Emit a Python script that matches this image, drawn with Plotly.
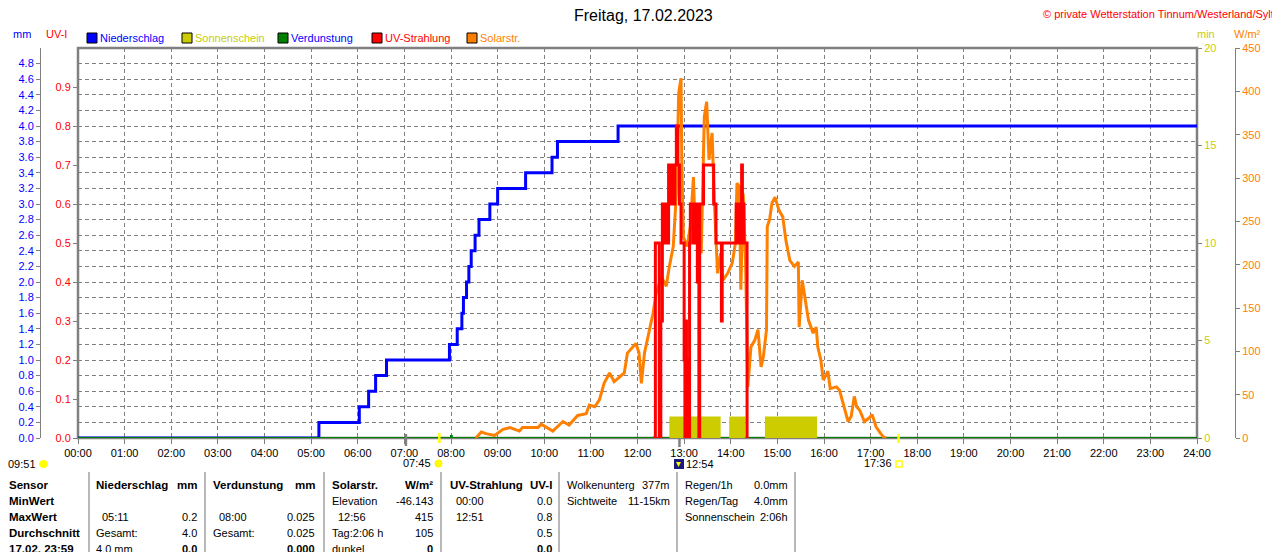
import plotly.graph_objects as go

# ---- data (times as HH:MM) ----
rain_time = ["00:00", "05:10", "06:02", "06:14", "06:23", "06:37", "07:58", "08:08", "08:14",
             "08:16", "08:20", "08:23", "08:26", "08:31", "08:36", "08:50", "09:00", "09:36",
             "10:10", "10:17", "11:35", "24:00"]
rain_mm = [0.0, 0.2, 0.4, 0.6, 0.8, 1.0, 1.2, 1.4, 1.6, 1.8, 2.0, 2.2, 2.4, 2.6, 2.8, 3.0,
           3.2, 3.4, 3.6, 3.8, 4.0, 4.0]

solar_time = ["08:32", "08:39", "08:45", "08:56", "09:07", "09:16", "09:28", "09:32", "09:52",
              "09:56", "10:11", "10:24", "10:32", "10:43", "10:54", "10:58", "11:05", "11:11",
              "11:17", "11:24", "11:30", "11:40", "11:43", "11:47", "11:58", "12:02", "12:05",
              "12:09", "12:16", "12:20", "12:24", "12:31", "12:37", "12:41", "12:46", "12:50",
              "12:53", "12:56", "12:57", "12:59", "13:04", "13:08", "13:12", "13:14", "13:17",
              "13:22", "13:26", "13:29", "13:32", "13:36", "13:39", "13:43", "13:47", "13:50",
              "13:56", "14:02", "14:06", "14:08", "14:11", "14:13", "14:16", "14:19", "14:22",
              "14:26", "14:31", "14:35", "14:39", "14:42", "14:46", "14:47", "14:50", "14:53",
              "14:57", "15:02", "15:07", "15:11", "15:16", "15:22", "15:27", "15:28", "15:32",
              "15:36", "15:40", "15:46", "15:50", "15:52", "15:56", "15:59", "16:05", "16:08",
              "16:16", "16:20", "16:26", "16:31", "16:35", "16:39", "16:42", "16:46", "16:52",
              "16:58", "17:02", "17:07", "17:13", "17:17", "17:20"]
solar_w = [0, 7, 5, 3, 10, 12, 8, 12, 12,
           16, 8, 19, 15, 26, 28, 38, 36, 44,
           63, 75, 65, 72, 75, 98, 109, 98, 63,
           98, 128, 144, 167, 186, 175, 198, 221, 282,
           398, 415, 321, 232, 221, 244, 301, 244, 267,
           213, 371, 388, 321, 352, 271, 190, 213, 182,
           190, 202, 225, 294, 290, 171, 282, 205, 59,
           105, 113, 125, 82, 94, 125, 244, 252, 271,
           278, 263, 255, 228, 205, 198, 203, 128, 182,
           159, 136, 121, 128, 105, 90, 67, 77, 57,
           59, 55, 36, 19, 25, 48, 36, 32, 19,
           23, 27, 13, 5, 1, 0]

uv_time = ["12:20", "12:23", "12:28", "12:30", "12:32", "12:34", "12:36", "12:38", "12:40",
           "12:42", "12:44", "12:46", "12:48", "12:50", "12:52", "12:54", "12:56", "12:59",
           "13:00", "13:01", "13:02", "13:03", "13:05", "13:06", "13:07", "13:08", "13:12",
           "13:14", "13:17", "13:19", "13:20", "13:25", "13:37", "13:38", "13:41", "13:48",
           "13:49", "14:06", "14:07", "14:09", "14:10", "14:12", "14:14", "14:15", "14:17",
           "14:21", "14:22"]
uv_idx = [0.0, 0.5, 0.0, 0.3, 0.6, 0.5, 0.6, 0.5, 0.7,
          0.6, 0.7, 0.6, 0.7, 0.8, 0.7, 0.6, 0.5, 0.5,
          0.2, 0.0, 0.3, 0.0, 0.2, 0.0, 0.5, 0.6, 0.5,
          0.6, 0.4, 0.0, 0.6, 0.7, 0.7, 0.6, 0.5, 0.3,
          0.5, 0.5, 0.6, 0.5, 0.6, 0.5, 0.7, 0.6, 0.5,
          0.0, 0.0]

evap_time = ["00:00", "08:00", "08:01", "24:00"]
evap_mm = [0.0, 0.025, 0.0, 0.0]

sun_start = ["12:41", "13:58", "14:44"]
sun_end = ["13:47", "14:19", "15:51"]
sun_min = [1.1, 1.1, 1.1]

hour_labels = ["%02d:00" % i for i in range(25)]
mm_ticks = [0.0, 0.2, 0.4, 0.6, 0.8, 1.0, 1.2, 1.4, 1.6, 1.8, 2.0, 2.2, 2.4, 2.6, 2.8, 3.0,
            3.2, 3.4, 3.6, 3.8, 4.0, 4.2, 4.4, 4.6, 4.8]
uv_ticks = [0.0, 0.1, 0.2, 0.3, 0.4, 0.5, 0.6, 0.7, 0.8, 0.9]
min_ticks = [0, 5, 10, 15, 20]
w_ticks = [0, 50, 100, 150, 200, 250, 300, 350, 400, 450]

sunrise, sunset, noon, dawn = "07:45", "17:36", "12:54", "07:02"

# ---- helpers ----
# the page body has an 8px margin, so the figure is 8px smaller and coordinates
# below are given in window pixels
OFF = 8
W, H = 1280 - OFF, 552 - OFF
FONT = "Liberation Sans"
GRAY = "#808080"


def hrs(t):
    hh, mm = t.split(":")
    return int(hh) + int(mm) / 60.0


def px(x):
    return (x - OFF) / W


def py(y):
    return 1 - (y - OFF) / H


X0, X1, Y0, Y1 = 78, 1197, 48, 438

fig = go.Figure()

fig.add_trace(go.Scatter(x=[hrs(t) for t in rain_time], y=rain_mm, mode="lines",
                         line=dict(color="#0000ff", width=3, shape="hv"), yaxis="y",
                         name="Niederschlag"))
fig.add_trace(go.Scatter(x=[hrs(t) for t in evap_time], y=evap_mm, mode="lines",
                         line=dict(color="#008000", width=2, shape="hv"), yaxis="y",
                         name="Verdunstung"))
s0 = [hrs(t) for t in sun_start]
s1 = [hrs(t) for t in sun_end]
fig.add_trace(go.Bar(x=[(a + b) / 2 for a, b in zip(s0, s1)], y=sun_min,
                     width=[b - a for a, b in zip(s0, s1)], marker_color="#cccc00",
                     marker_line_width=0, yaxis="y2", name="Sonnenschein"))
fig.add_trace(go.Scatter(x=[hrs(t) for t in solar_time], y=solar_w, mode="lines",
                         line=dict(color="#ff8000", width=3), yaxis="y3", name="Solarstr."))
fig.add_trace(go.Scatter(x=[hrs(t) for t in uv_time], y=uv_idx, mode="lines",
                         line=dict(color="#ff0000", width=3, shape="hv"), yaxis="y4",
                         name="UV-Strahlung"))

dom_x = [px(X0), px(X1)]
dom_y = [py(Y1), py(Y0)]
TF = 11


def yax(**kw):
    base = dict(domain=dom_y, automargin=False, showgrid=False, zeroline=False,
                tickcolor=GRAY, ticklen=4, ticks="outside")
    base.update(kw)
    return base


fig.update_layout(
    width=W, height=H, margin=dict(l=0, r=0, t=0, b=0, autoexpand=False),
    paper_bgcolor="white", plot_bgcolor="white", showlegend=False,
    font=dict(family=FONT, size=11, color="black"),
    xaxis=dict(domain=dom_x, range=[0, 24], tickvals=list(range(25)), ticktext=hour_labels,
               showgrid=True, gridcolor=GRAY, griddash="4px,3px", gridwidth=1,
               ticks="outside", ticklen=5, tickcolor=GRAY, zeroline=False, automargin=False,
               tickfont=dict(family=FONT, size=TF, color="black"), anchor="y"),
    # mm axis carries the dashed horizontal grid
    yaxis=yax(anchor="free", position=px(40), side="left", range=[0, 5],
              tickvals=mm_ticks, ticktext=["%.1f" % v for v in mm_ticks],
              tickfont=dict(family=FONT, size=TF, color="#0000ff"),
              showline=True, linecolor=GRAY, linewidth=1,
              showgrid=True, gridcolor=GRAY, griddash="4px,3px"),
    yaxis2=yax(overlaying="y", anchor="x", side="right", range=[0, 20], tickvals=min_ticks,
               tickfont=dict(family=FONT, size=TF, color="#cccc00")),
    yaxis3=yax(overlaying="y", anchor="free", position=px(1235), side="right", range=[0, 450],
               tickvals=w_ticks, tickfont=dict(family=FONT, size=TF, color="#ff8000"),
               showline=True, linecolor=GRAY, linewidth=1),
    yaxis4=yax(overlaying="y", anchor="x", side="left", range=[0, 1], tickvals=uv_ticks,
               ticktext=["%.1f" % v for v in uv_ticks],
               tickfont=dict(family=FONT, size=TF, color="#ff0000")),
)

shapes = []
# frame
shapes.append(dict(type="rect", xref="paper", yref="paper", x0=px(X0), x1=px(X1),
                   y0=py(Y1), y1=py(Y0), line=dict(color=GRAY, width=2.5), layer="below"))
# sun markers on the time axis
for t, col, ya, yb in [(sunrise, "#ffff00", 433, 443), (sunset, "#ffff00", 434, 443),
                       (noon, GRAY, 438, 447), (dawn, GRAY, 434, 446)]:
    shapes.append(dict(type="line", xref="x", yref="paper", x0=hrs(t), x1=hrs(t),
                       y0=py(yb), y1=py(ya), line=dict(color=col, width=2.5), layer="above"))

annotations = []


def text(x, y, s, color="black", anchor="left", size=11, bold=False):
    if bold:
        s = "<b>" + s + "</b>"
    annotations.append(dict(x=px(x), y=py(y), xref="paper", yref="paper", text=s,
                            showarrow=False, xanchor=anchor, yanchor="middle",
                            borderpad=0, font=dict(family=FONT, size=size, color=color)))


# title row
text(643, 16, "Freitag, 17.02.2023", anchor="center", size=16)
text(1275, 14, "© private Wetterstation Tinnum/Westerland/Sylt", color="#ff0000",
     anchor="right", size=11)
text(12, 34, "mm", color="#0000ff")
text(45, 34, "UV-I", color="#ff0000")
text(1196, 34, "min", color="#cccc00")
text(1233, 34, "W/m²", color="#ff8000")

legend = [("Niederschlag", "#0000ff", "#0000ff", 87),
          ("Sonnenschein", "#cccc00", "#cccc00", 182),
          ("Verdunstung", "#008000", "#0000ff", 278),
          ("UV-Strahlung", "#ff0000", "#ff0000", 372),
          ("Solarstr.", "#ff8000", "#ff8000", 467)]
for name, box, tcol, x in legend:
    shapes.append(dict(type="rect", xref="paper", yref="paper", x0=px(x), x1=px(x + 10),
                       y0=py(43), y1=py(33), fillcolor=box, line=dict(color="black", width=1)))
    text(x + 12, 38, name, color=tcol)

# sun / moon times under the axis
text(37, 464, "09:51", anchor="right")
shapes.append(dict(type="circle", xref="paper", yref="paper", x0=px(39), x1=px(48),
                   y0=py(468), y1=py(460), fillcolor="#ffff00", line=dict(width=0)))
text(432, 463, "07:45", anchor="right")
shapes.append(dict(type="circle", xref="paper", yref="paper", x0=px(435), x1=px(442),
                   y0=py(467), y1=py(460), fillcolor="#ffff00", line=dict(color="#ffee00", width=1)))
text(893, 463, "17:36", anchor="right")
shapes.append(dict(type="rect", xref="paper", yref="paper", x0=px(896), x1=px(902),
                   y0=py(467), y1=py(461), line=dict(color="#ffff00", width=1.5)))
shapes.append(dict(type="rect", xref="paper", yref="paper", x0=px(674), x1=px(684),
                   y0=py(469), y1=py(459), fillcolor="#1a1a80", line=dict(width=0)))
shapes.append(dict(type="path", xref="paper", yref="paper",
                   path="M %f %f L %f %f L %f %f Z" % (px(676), py(462), px(681), py(462),
                                                        px(678.5), py(467)),
                   fillcolor="#ffff00", line=dict(width=0)))
text(685, 464, "12:54")

# ---- table below the chart ----
rows_y = [485, 501, 517, 533, 549]
for x in [89, 205, 324, 441, 559, 677, 795]:
    shapes.append(dict(type="line", xref="paper", yref="paper", x0=px(x), x1=px(x),
                       y0=py(552), y1=py(472), line=dict(color="#a0a0a0", width=1.5)))

sensor_col = ["Sensor", "MinWert", "MaxWert", "Durchschnitt", "17.02. 23:59"]
for s, y in zip(sensor_col, rows_y):
    text(8, y, s, bold=True, size=11.5)

table = [
    (95, 198, ["Niederschlag", "", "05:11", "Gesamt:", "4.0 mm"], ["mm", "", "0.2", "4.0", "0.0"]),
    (212, 316, ["Verdunstung", "", "08:00", "Gesamt:", ""], ["mm", "", "0.025", "0.025", "0.000"]),
    (331, 434, ["Solarstr.", "Elevation", "12:56", "Tag:2:06 h", "dunkel"],
     ["W/m²", "-46.143", "415", "105", "0"]),
    (449, 553, ["UV-Strahlung", "00:00", "12:51", "", ""], ["UV-I", "0.0", "0.8", "0.5", "0.0"]),
]
for xl, xr, lefts, rights in table:
    for i, (l, r, y) in enumerate(zip(lefts, rights, rows_y)):
        indent = 6 if (":" in l and len(l) == 5) else 0
        if l:
            text(xl + indent, y, l, bold=(i == 0), size=11.5 if i == 0 else 11)
        if r:
            text(xr, y, r, anchor="right", bold=(i == 0 or i == 4), size=11.5 if i == 0 else 11)

extra = [
    (566, 671, ["Wolkenunterg", "Sichtweite"], ["377m", "11-15km"]),
    (684, 789, ["Regen/1h", "Regen/Tag", "Sonnenschein"], ["0.0mm", "4.0mm", "2:06h"]),
]
for xl, xr, lefts, rights in extra:
    for l, r, y in zip(lefts, rights, rows_y):
        text(xl, y, l)
        text(xr, y, r, anchor="right")

fig.update_layout(shapes=shapes, annotations=annotations)
fig.write_html("out.html")
